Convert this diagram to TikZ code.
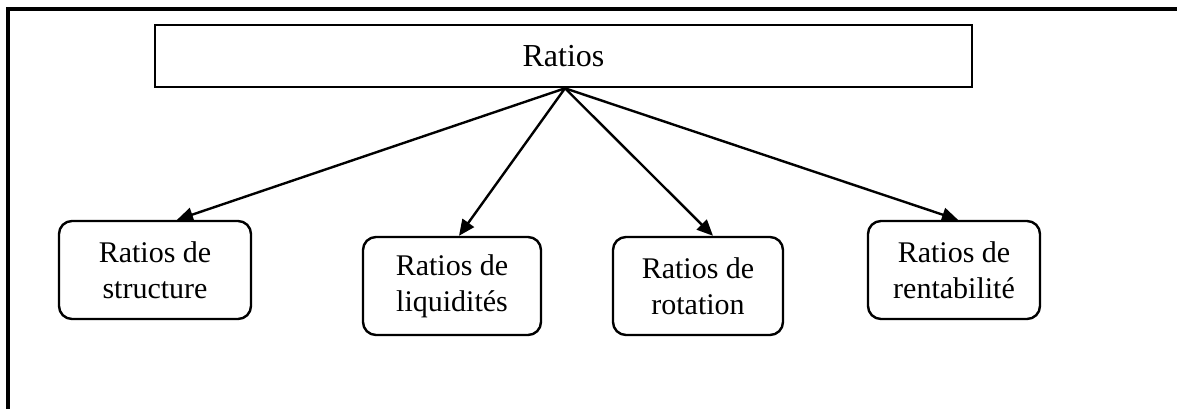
\documentclass[tikz,border=0pt]{standalone}
\usepackage{fontspec}
\setmainfont{Liberation Serif}
\usetikzlibrary{arrows.meta,calc}
\begin{document}
\begin{tikzpicture}[x=1pt,y=-1pt,
  lbl/.style={font=\fontsize{30}{36}\selectfont, align=center, inner sep=0pt},
  mainbox/.style={draw, line width=2.6pt, minimum width=817pt, minimum height=62pt, lbl, font=\fontsize{32}{36}\selectfont},
  childbox/.style={draw, line width=2.4pt, rounded corners=13pt, minimum height=98pt, lbl},
  arr/.style={line width=2.4pt, -{Triangle[length=16pt,width=14pt]}}
]
\useasboundingbox (0,0) rectangle (1177,409);
\draw[line width=4pt] (8,409) -- (8,9) -- (1177,9);
\node[mainbox] (main) at (563.5,56) {Ratios};
\node[childbox, minimum width=192pt] (b1) at (155,270) {Ratios de\\structure};
\node[childbox, minimum width=178pt] (b2) at (452,286) {Ratios de\\liquidités};
\node[childbox, minimum width=170pt] (b3) at (698,286) {Ratios de\\rotation};
\node[childbox, minimum width=172pt] (b4) at (954,270) {Ratios de\\rentabilité};
\coordinate (o) at ([xshift=1.5pt]main.south);
\draw[arr] (o) -- ([xshift=22pt]b1.north);
\draw[arr] (o) -- ([xshift=7pt]b2.north);
\draw[arr] (o) -- ([xshift=15pt]b3.north);
\draw[arr] (o) -- ([xshift=4pt]b4.north);
\end{tikzpicture}
\end{document}
